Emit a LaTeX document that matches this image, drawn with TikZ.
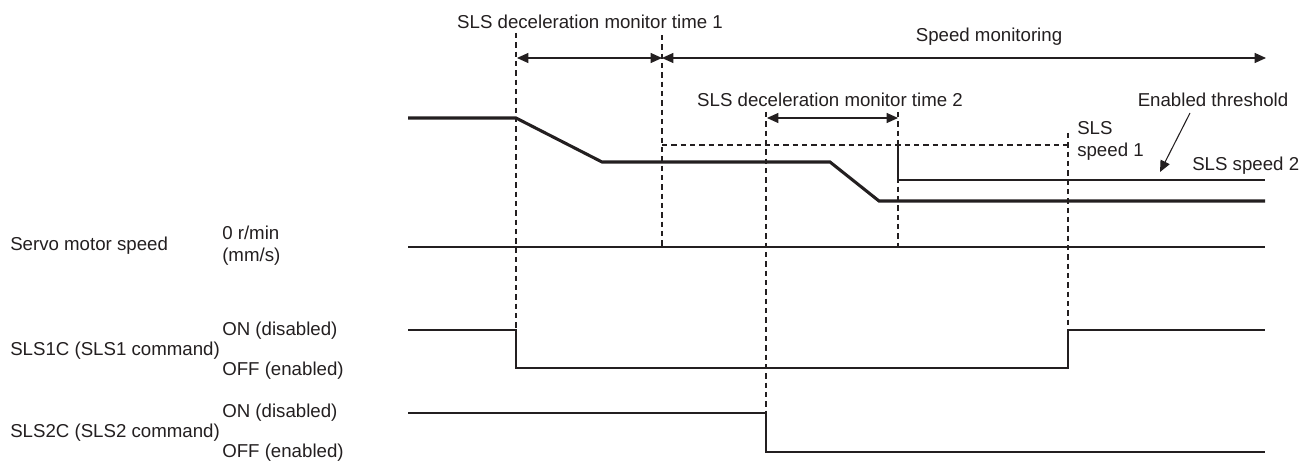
\documentclass[tikz,border=0pt]{standalone}
\usepackage{fontspec}
\setmainfont{Liberation Sans}
\usepackage{xcolor}
\usepackage{tikz}
\usetikzlibrary{arrows.meta}
\definecolor{ink}{RGB}{35,31,32}
\tikzset{
  signal/.style={line width=0.8pt,ink},
  speedline/.style={line width=2.3pt,ink},
  guide/.style={line width=0.8pt,ink,dash pattern=on 4pt off 3pt},
  span/.style={line width=0.8pt,ink,{Triangle[length=8.5pt,width=7.5pt]}-{Triangle[length=8.5pt,width=7.5pt]}},
  pointer/.style={line width=0.8pt,ink,-{Triangle[length=8.5pt,width=7.5pt]}},
  txt/.style={font=\fontsize{14}{16.5}\selectfont,text=ink,inner sep=0pt,align=left}
}

\begin{document}
\begin{tikzpicture}[x=0.75pt,y=-0.75pt]
  \useasboundingbox (0,0) rectangle (1301,463);
  % servo motor speed
  \coordinate (s0) at (408,118);
  \coordinate (s1) at (516,118);
  \coordinate (s2) at (602,162);
  \coordinate (s3) at (830,162);
  \coordinate (s4) at (879,201);
  \coordinate (s5) at (1265,201);
  \draw[speedline] (s0)--(s1)--(s2)--(s3)--(s4)--(s5);
  % enabled threshold
  \coordinate (h0) at (662,145);
  \coordinate (h1) at (898,145);
  \coordinate (h2) at (1068,145);
  \coordinate (h3) at (898,180);
  \coordinate (h4) at (1265,180);
  \draw[guide] (h0)--(h1)--(h2);
  \draw[signal] (h1)--(h3)--(h4);
  % zero speed
  \coordinate (z0) at (408,247);
  \coordinate (z1) at (1265,247);
  \draw[signal] (z0)--(z1);
  % SLS1C
  \coordinate (a0) at (408,330);
  \coordinate (a1) at (516,330);
  \coordinate (a2) at (516,368);
  \coordinate (a3) at (1068,368);
  \coordinate (a4) at (1068,330);
  \coordinate (a5) at (1265,330);
  \draw[signal] (a0)--(a1)--(a2)--(a3)--(a4)--(a5);
  % SLS2C
  \coordinate (b0) at (408,413);
  \coordinate (b1) at (766,413);
  \coordinate (b2) at (766,452);
  \coordinate (b3) at (1265,452);
  \draw[signal] (b0)--(b1)--(b2)--(b3);
  % dashed guides
  \coordinate (g1) at (516,33);
  \coordinate (g2) at (662,35);
  \coordinate (g3) at (766,112);
  \coordinate (g4) at (898,112);
  \coordinate (g5) at (1068,133);
  \coordinate (g2b) at (662,247);
  \coordinate (g4b) at (898,247);
  \draw[guide] (g1)--(a1);
  \draw[guide] (g2)--(g2b);
  \draw[guide] (g3)--(b1);
  \draw[guide] (g4)--(g4b);
  \draw[guide] (g5)--(a4);
  % monitoring spans
  \coordinate (m0) at (517,58);
  \coordinate (m1) at (662,58);
  \coordinate (m2) at (1266,58);
  \coordinate (n0) at (767,118);
  \coordinate (n1) at (898,118);
  \draw[span] (m0)--(m1);
  \draw[span] (m1)--(m2);
  \draw[span] (n0)--(n1);
  \node[txt] (lblT1) at (590,22) {SLS deceleration monitor time 1};
  \node[txt] (lblMon) at (989,37) {Speed monitoring};
  \node[txt] (lblT2) at (830,100) {SLS deceleration monitor time 2};
  \node[txt] (lblThr) at (1213,100) {Enabled threshold};
  \coordinate (p0) at (1190,113);
  \coordinate (p1) at (1160,172);
  \draw[pointer] (p0)--(p1);
  \node[txt,anchor=west] (lblV1) at (1077,141) {SLS\\speed 1};
  \node[txt,anchor=west] (lblV2) at (1192,166) {SLS speed 2};
  % signal names
  \node[txt,anchor=west] (nmSpd) at (10,246) {Servo motor speed};
  \node[txt,anchor=west] (lvZero) at (222,246) {0 r/min\\(mm/s)};
  \node[txt,anchor=west] (nmA) at (10,351) {SLS1C (SLS1 command)};
  \node[txt,anchor=west] (lvAon) at (222,331) {ON (disabled)};
  \node[txt,anchor=west] (lvAoff) at (222,371) {OFF (enabled)};
  \node[txt,anchor=west] (nmB) at (10,433) {SLS2C (SLS2 command)};
  \node[txt,anchor=west] (lvBon) at (222,413) {ON (disabled)};
  \node[txt,anchor=west] (lvBoff) at (222,453) {OFF (enabled)};
\end{tikzpicture}
\end{document}
